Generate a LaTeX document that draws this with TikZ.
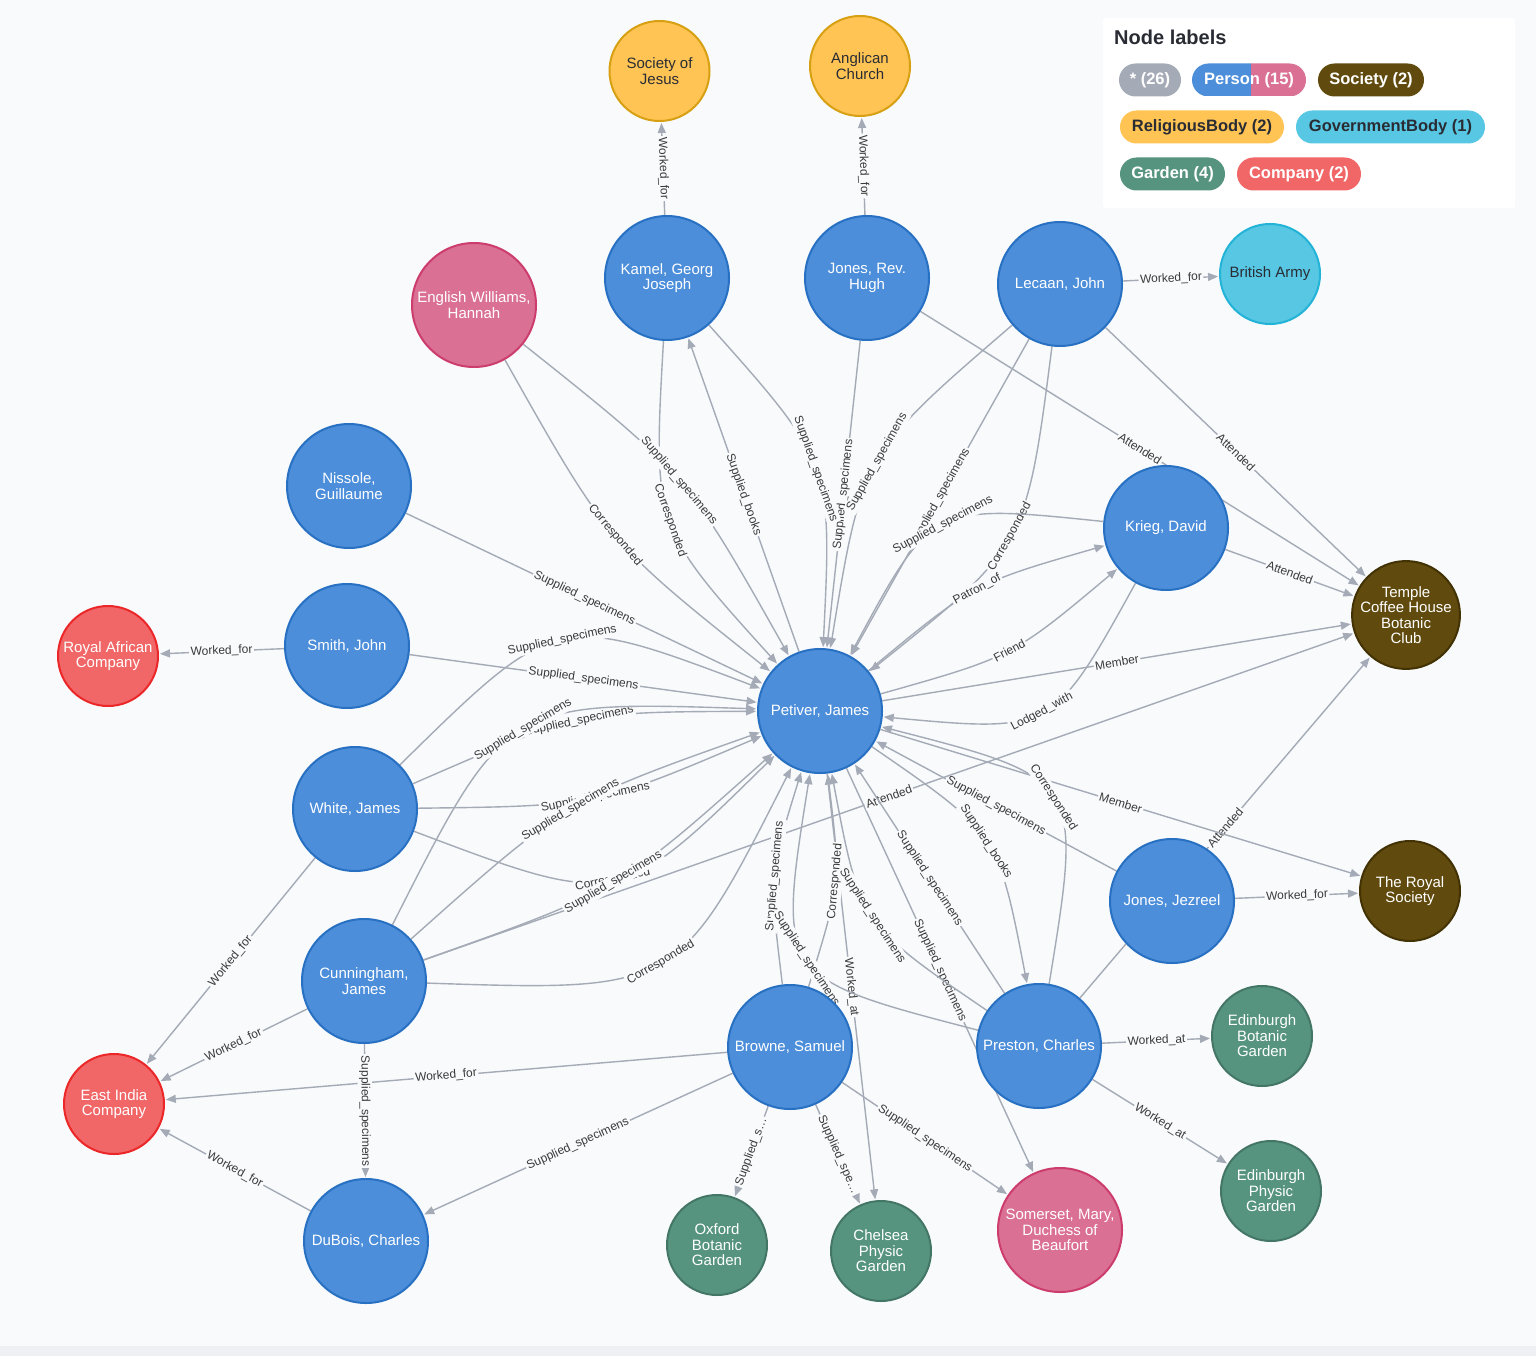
\documentclass[tikz,border=0pt]{standalone}
\usepackage{fontspec}
\setmainfont{Liberation Sans}
\usetikzlibrary{arrows.meta,calc}
\pgfdeclarelayer{bglayer}
\pgfdeclarelayer{edgelayer}
\pgfsetlayers{bglayer,edgelayer,main}
\definecolor{bgc}{HTML}{F8FAFC}
\definecolor{bandc}{HTML}{EEF0F3}
\definecolor{edgec}{HTML}{A5ABB6}
\definecolor{labc}{HTML}{3A3A3A}
\definecolor{perF}{HTML}{4C8EDA}\definecolor{perD}{HTML}{2870C2}
\definecolor{pinkF}{HTML}{DA7194}\definecolor{pinkD}{HTML}{CC3C6C}
\definecolor{relF}{HTML}{FFC454}\definecolor{relD}{HTML}{D7A013}
\definecolor{govF}{HTML}{57C7E3}\definecolor{govD}{HTML}{23B3D7}
\definecolor{garF}{HTML}{569480}\definecolor{garD}{HTML}{447666}
\definecolor{comF}{HTML}{F16667}\definecolor{comD}{HTML}{EB2728}
\definecolor{socF}{HTML}{604A0E}\definecolor{socD}{HTML}{423204}
\definecolor{allF}{HTML}{A5ABB6}
\definecolor{darktext}{HTML}{2A2C34}
\tikzset{
  gnode/.style={circle, line width=2pt, inner sep=0pt, align=center,
    font=\fontsize{15}{15.5}\selectfont, text=white},
  person/.style={gnode, minimum size=124pt, fill=perF, draw=perD},
  pinkperson/.style={gnode, minimum size=124pt, fill=pinkF, draw=pinkD},
  religious/.style={gnode, minimum size=100pt, fill=relF, draw=relD, text=darktext},
  government/.style={gnode, minimum size=100pt, fill=govF, draw=govD, text=darktext},
  garden/.style={gnode, minimum size=100pt, fill=garF, draw=garD},
  company/.style={gnode, minimum size=100pt, fill=comF, draw=comD},
  society/.style={gnode, minimum size=100pt, fill=socF, draw=socD},
  rel/.style={draw=edgec, line width=1.4pt, -{Triangle[length=10pt,width=8pt]}, shorten >=1pt},
  lab/.style={sloped, pos=0.5, fill=bgc, inner sep=1.5pt, text=labc,
    font=\fontsize{12}{12}\selectfont},
  pill/.style={rounded corners=16.5pt, minimum height=33pt, inner sep=0pt,
    font=\fontsize{16.5}{16.5}\selectfont\bfseries, text=white},
}
\newcommand\sedge[3]{\draw[rel] (#1) -- node[lab]{#3} (#2);}
\newcommand\cedge[5]{\draw[rel] (#1) .. controls ($(#1)!0.5!(#2)!#4!#5:(#2)$) .. (#2) node[lab]{#3};}
\begin{document}
\begin{tikzpicture}[x=1pt,y=-1pt]
\useasboundingbox (0,0) rectangle (1536,1356);
\begin{pgfonlayer}{bglayer}
\fill[bgc] (0,0) rectangle (1536,1356);
\fill[bandc] (0,1346) rectangle (1536,1356);
\end{pgfonlayer}

% legend
\node[fill=white, rounded corners=3pt, minimum width=412pt, minimum height=190pt, anchor=north west, inner sep=0pt] (legendbox) at (1103,18) {};
\node[anchor=west, font=\fontsize{20}{20}\selectfont\bfseries, text=darktext, inner sep=0pt] (legtitle) at (1114,37) {Node labels};
\node[pill, fill=allF, minimum width=62pt] (pall) at (1150,80) {* (26)};
\begin{scope}
  \clip[rounded corners=16.5pt] (1192,63.5) rectangle (1306,96.5);
  \fill[perF] (1192,63.5) rectangle (1251,96.5);
  \fill[pinkF] (1251,63.5) rectangle (1306,96.5);
\end{scope}
\node[pill] (pperson) at (1249,80) {Person (15)};
\node[pill, fill=socF, minimum width=106pt] (psoc) at (1371,80) {Society (2)};
\node[pill, fill=relF, minimum width=164pt, text=darktext] (prel) at (1202,127) {ReligiousBody (2)};
\node[pill, fill=govF, minimum width=189pt, text=darktext] (pgov) at (1390.5,127) {GovernmentBody (1)};
\node[pill, fill=garF, minimum width=105pt] (pgar) at (1172.5,174) {Garden (4)};
\node[pill, fill=comF, minimum width=124pt] (pcom) at (1299,174) {Company (2)};

% nodes
\node[religious] (soj) at (659.5,71) {Society of\\Jesus};
\node[religious] (ac) at (860,66) {Anglican\\Church};
\node[person] (kamel) at (667,278) {Kamel, Georg\\Joseph};
\node[person] (jonesh) at (867,278) {Jones, Rev.\\Hugh};
\node[person] (lecaan) at (1060,284) {Lecaan, John};
\node[government] (ba) at (1270,274) {British Army};
\node[pinkperson] (ewh) at (474,305) {English Williams,\\Hannah};
\node[person] (nissole) at (349,486) {Nissole,\\Guillaume};
\node[person] (smith) at (347,646) {Smith, John};
\node[company] (rac) at (108,656) {Royal African\\Company};
\node[person] (white) at (355,809) {White, James};
\node[person] (cunn) at (364,981) {Cunningham,\\James};
\node[company] (eic) at (114,1104) {East India\\Company};
\node[person] (dubois) at (366,1241) {DuBois, Charles};
\node[person] (petiver) at (820,711) {Petiver, James};
\node[person] (krieg) at (1166,528) {Krieg, David};
\node[society] (temple) at (1406,615) {Temple\\Coffee House\\Botanic\\Club};
\node[person] (jj) at (1172,901) {Jones, Jezreel};
\node[society] (trs) at (1410,891) {The Royal\\Society};
\node[person] (browne) at (790,1047) {Browne, Samuel};
\node[person] (preston) at (1039,1046) {Preston, Charles};
\node[garden] (ebg) at (1262,1036) {Edinburgh\\Botanic\\Garden};
\node[garden] (epg) at (1271,1191) {Edinburgh\\Physic\\Garden};
\node[garden] (obg) at (717,1245) {Oxford\\Botanic\\Garden};
\node[garden] (cpg) at (881,1251) {Chelsea\\Physic\\Garden};
\node[pinkperson] (somerset) at (1060,1230) {Somerset, Mary,\\Duchess of\\Beaufort};

\begin{pgfonlayer}{edgelayer}
% straight edges
\sedge{kamel}{soj}{Worked\_for}
\sedge{jonesh}{ac}{Worked\_for}
\sedge{lecaan}{ba}{Worked\_for}
\sedge{smith}{rac}{Worked\_for}
\sedge{white}{eic}{Worked\_for}
\sedge{cunn}{eic}{Worked\_for}
\sedge{browne}{eic}{Worked\_for}
\sedge{dubois}{eic}{Worked\_for}
\sedge{jj}{trs}{Worked\_for}
\sedge{preston}{ebg}{Worked\_at}
\sedge{preston}{epg}{Worked\_at}
\sedge{petiver}{cpg}{Worked\_at}
\sedge{petiver}{somerset}{Supplied\_specimens}
\sedge{browne}{obg}{Supplied\_s…}
\sedge{browne}{cpg}{Supplied\_spe…}
\sedge{browne}{somerset}{Supplied\_specimens}
\sedge{browne}{dubois}{Supplied\_specimens}
\sedge{cunn}{dubois}{Supplied\_specimens}
\sedge{preston}{temple}{Attended}
\sedge{jj}{petiver}{Supplied\_specimens}
\sedge{petiver}{trs}{Member}
\sedge{petiver}{temple}{Member}
\sedge{cunn}{temple}{Attended}
\sedge{jonesh}{temple}{Attended}
\sedge{lecaan}{temple}{Attended}
\sedge{krieg}{temple}{Attended}
\sedge{nissole}{petiver}{Supplied\_specimens}
\sedge{smith}{petiver}{Supplied\_specimens}
\sedge{jonesh}{petiver}{Supplied\_specimens}
\sedge{lecaan}{petiver}{Supplied\_specimens}
\sedge{petiver}{kamel}{Supplied\_books}
\sedge{preston}{petiver}{Supplied\_specimens}
% curved edges
\cedge{kamel}{petiver}{Corresponded}{96pt}{-90}
\cedge{kamel}{petiver}{Supplied\_specimens}{94pt}{90}
\cedge{ewh}{petiver}{Corresponded}{52pt}{-90}
\cedge{ewh}{petiver}{Supplied\_specimens}{52pt}{90}
\cedge{lecaan}{petiver}{Supplied\_specimens}{89pt}{-90}
\cedge{lecaan}{petiver}{Corresponded}{99pt}{90}
\cedge{krieg}{petiver}{Supplied\_specimens}{131pt}{-90}
\cedge{krieg}{petiver}{Lodged\_with}{128pt}{90}
\cedge{petiver}{krieg}{Patron\_of}{41pt}{90}
\cedge{petiver}{krieg}{Friend}{42pt}{-90}
\cedge{white}{petiver}{Supplied\_specimens}{152pt}{90}
\cedge{white}{petiver}{Supplied\_specimens}{49pt}{90}
\cedge{white}{petiver}{Supplied\_specimens}{47pt}{-90}
\cedge{white}{petiver}{Corresponded}{152pt}{-90}
\cedge{cunn}{petiver}{Supplied\_specimens}{169pt}{90}
\cedge{cunn}{petiver}{Supplied\_specimens}{52pt}{90}
\cedge{cunn}{petiver}{Supplied\_specimens}{52pt}{-90}
\cedge{cunn}{petiver}{Corresponded}{169pt}{-90}
\cedge{browne}{petiver}{Supplied\_specimens}{36pt}{90}
\cedge{browne}{petiver}{Corresponded}{36pt}{-90}
\cedge{preston}{petiver}{Supplied\_specimens}{83pt}{90}
\cedge{preston}{petiver}{Supplied\_specimens}{182pt}{90}
\cedge{preston}{petiver}{Corresponded}{183pt}{-90}
\cedge{petiver}{preston}{Supplied\_books}{82pt}{90}
\end{pgfonlayer}
\end{tikzpicture}
\end{document}
